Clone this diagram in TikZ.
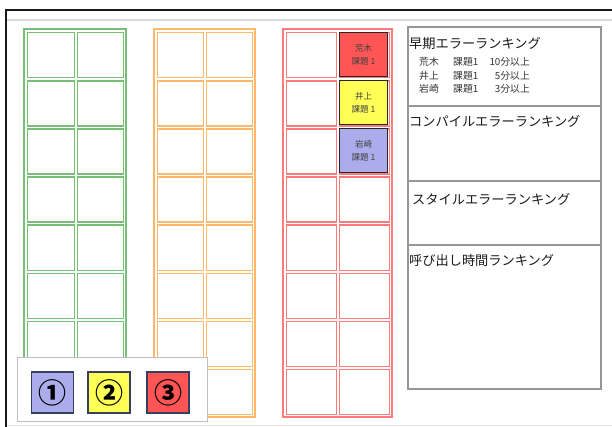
\documentclass[tikz,border=0pt]{standalone}
\usepackage{fontspec}
\newfontfamily\jp{Noto Sans CJK JP}
\definecolor{gridgreen}{RGB}{95,180,95}
\definecolor{gridorange}{RGB}{255,170,80}
\definecolor{gridred}{RGB}{255,100,100}
\definecolor{cardred}{RGB}{255,85,85}
\definecolor{cardyellow}{RGB}{255,255,85}
\definecolor{cardblue}{RGB}{172,172,236}
\definecolor{panelgray}{RGB}{150,150,150}
\definecolor{legendedge}{RGB}{55,65,95}
\begin{document}
\begin{tikzpicture}[x=1pt,y=-1pt,
  cellbox/.style={draw, line width=1.4pt, draw opacity=0.85, inner sep=0pt, minimum width=#1, minimum height=45.1pt, anchor=north west},
  card/.style={draw=black!85, line width=1pt, inner sep=0pt, minimum width=48pt, minimum height=44pt, anchor=north west, align=center, font=\jp\fontsize{8.5}{13}\selectfont, text=black!75},
  paneltitle/.style={anchor=west, inner sep=0pt, font=\jp\fontsize{13.2}{15}\selectfont, text=black!90},
  rankline/.style={inner sep=0pt, font=\jp\fontsize{9.8}{11}\selectfont, text=black!80},
  legsq/.style={draw=legendedge, line width=1.1pt, minimum width=42pt, minimum height=41pt, inner sep=0pt, font=\jp\bfseries\fontsize{28}{28}\selectfont}]
\useasboundingbox (0,0) rectangle (612,427);
% window frame
\draw[black!15, line width=1.2pt] (7,20) -- (612,20);
\draw[black!10, line width=1pt] (7,425) -- (612,425);
\draw[black!90, line width=1.5pt] (612,10) -- (6,10) -- (6,427);
% grids
\foreach \nm/\xo/\W/\col in {g/24/102/gridgreen, o/154/101/gridorange, r/283/109/gridred} {
  \draw[\col, line width=1.4pt, draw opacity=0.85] (\xo,29) rectangle ({\xo+\W},417);
  \pgfmathsetmacro\cw{(\W-9)/2}
  \foreach \i in {0,1} {
    \foreach \j in {0,...,7} {
      \node[cellbox=\cw pt, draw=\col] (\nm-\i-\j) at ({\xo+3+\i*(\cw+3)},{32+\j*48.125}) {};
    }
  }
}
% cards
\node[card, fill=cardred] (c1) at (r-1-0.north west) {荒木\\課題 1};
\node[card, fill=cardyellow] (c2) at (r-1-1.north west) {井上\\課題 1};
\node[card, fill=cardblue] (c3) at (r-1-2.north west) {岩崎\\課題 1};
% right panel
\draw[panelgray, line width=1.5pt] (408,27) rectangle (601,389);
\draw[panelgray, line width=1.1pt] (408,106) -- (601,106);
\draw[panelgray, line width=1.1pt] (408,181) -- (601,181);
\draw[panelgray, line width=1.1pt] (408,245) -- (601,245);
\node[paneltitle] (t1) at (409,44) {早期エラーランキング};
\node[rankline, anchor=west] (n1) at (419,62) {荒木};
\node[rankline, anchor=west] (k1) at (453,62) {課題1};
\node[rankline, anchor=east] (m1) at (530,62) {10分以上};
\node[rankline, anchor=west] (n2) at (419,75.5) {井上};
\node[rankline, anchor=west] (k2) at (453,75.5) {課題1};
\node[rankline, anchor=east] (m2) at (530,75.5) {5分以上};
\node[rankline, anchor=west] (n3) at (419,89) {岩崎};
\node[rankline, anchor=west] (k3) at (453,89) {課題1};
\node[rankline, anchor=east] (m3) at (530,89) {3分以上};
\node[paneltitle] (t2) at (409,121) {コンパイルエラーランキング};
\node[paneltitle] (t3) at (412,199) {スタイルエラーランキング};
\node[paneltitle] (t4) at (409,260) {呼び出し時間ランキング};
% legend
\node[draw=black!25, fill=white, line width=1pt, minimum width=190pt, minimum height=64pt, inner sep=0pt, anchor=north west] (leg) at (17,357) {};
\node[legsq, fill=cardblue] (l1) at (52.5,392.5) {①};
\node[legsq, fill=cardyellow] (l2) at (109,392.5) {②};
\node[legsq, fill=cardred] (l3) at (168,392.5) {③};
\end{tikzpicture}
\end{document}
